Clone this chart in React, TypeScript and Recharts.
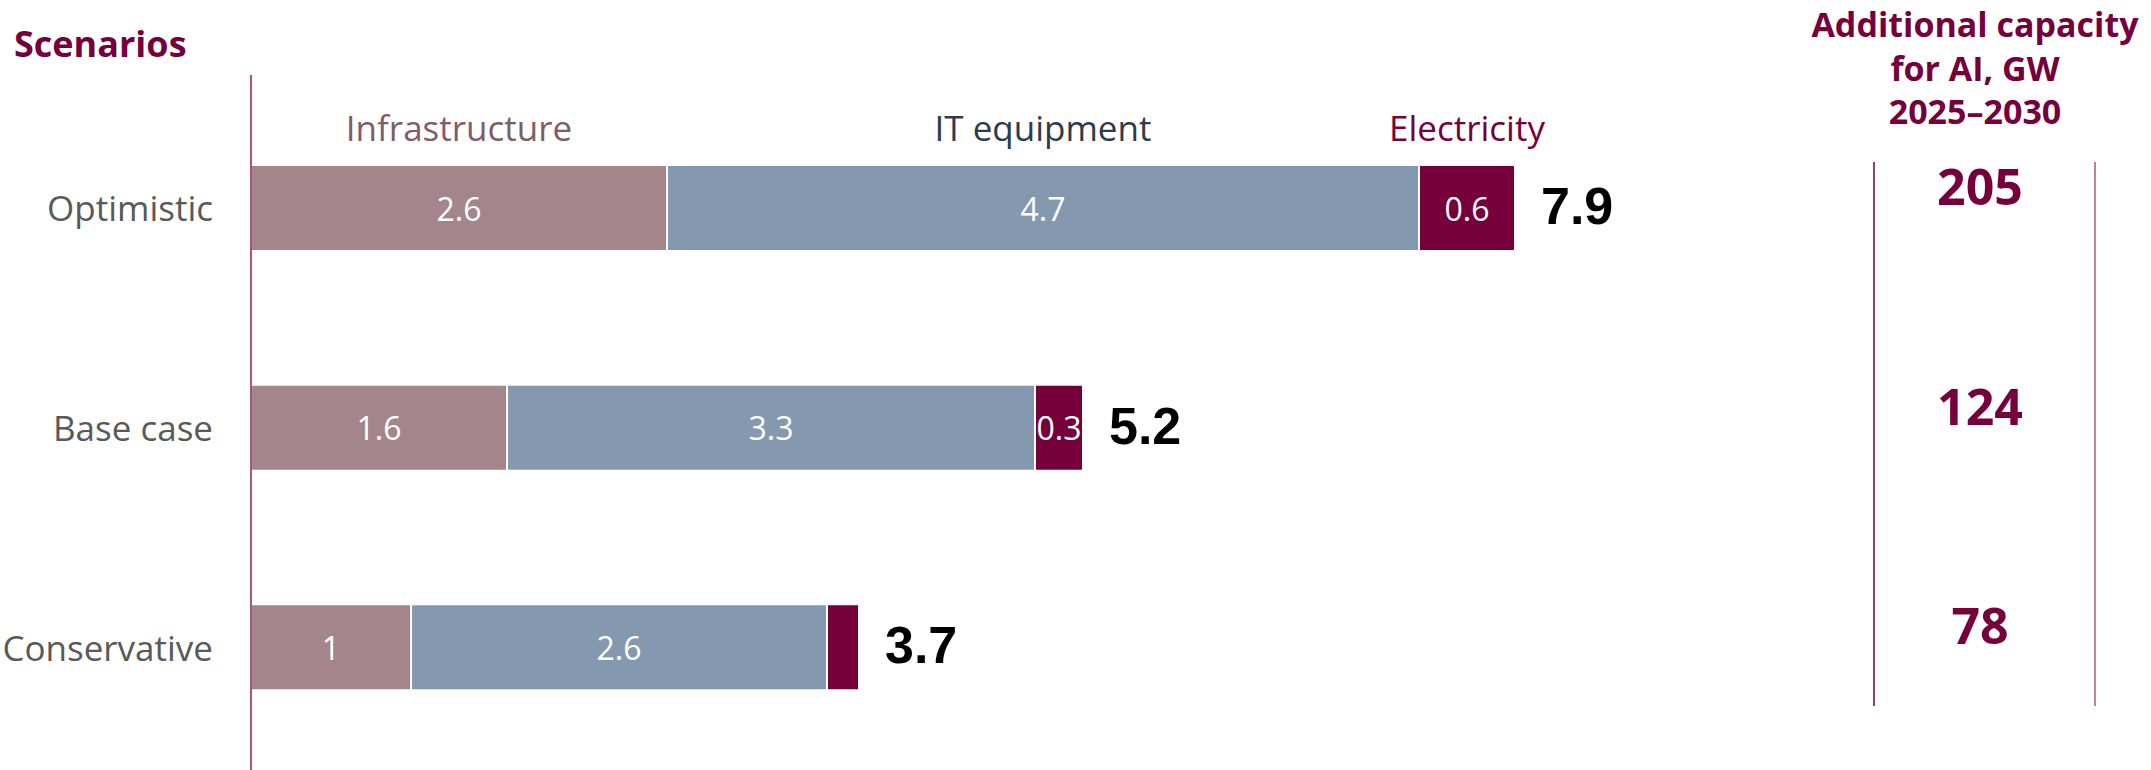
import { Bar, BarChart, LabelList, XAxis, YAxis } from "recharts";

const scenarios = ["Optimistic", "Base case", "Conservative"];
const infrastructure = [2.6, 1.6, 1];
const itEquipment = [4.7, 3.3, 2.6];
const electricity = [0.6, 0.3, 0.2];
const totals = [7.9, 5.2, 3.7];
const capacityGW = [205, 124, 78];

const seriesNames = ["Infrastructure", "IT equipment", "Electricity"];
const barColors = ["#a4858b", "#8498b0", "#76003c"];
const nameColors = ["#7f5c68", "#2e3a4d", "#76003c"];

const MAROON = "#76003c";
const FONT = "'Open Sans', 'Noto Sans', sans-serif";
const TOTAL_FONT = "'Liberation Sans', Arial, sans-serif";

const W = 2151;
const H = 770;

const data = scenarios.map((name, i) => ({
  name,
  infrastructure: infrastructure[i],
  it: itEquipment[i],
  electricity: electricity[i],
  total: totals[i],
  capacity: capacityGW[i],
}));

// value inside a segment, dropped when the segment is too thin
const segmentLabel = (props: any) => {
  const { x, y, width, height, value } = props;
  if (width < 40) return null;
  return (
    <text
      x={x + width / 2}
      y={y + height / 2}
      fill="#fff"
      fontSize={32}
      fontFamily={FONT}
      textAnchor="middle"
      dominantBaseline="central"
    >
      {value}
    </text>
  );
};

// series name over the first row only
const seriesLabel = (i: number) => (props: any) => {
  const { x, y, width, value } = props;
  if (value !== scenarios[0]) return null;
  return (
    <text
      x={x + width / 2}
      y={y - 24}
      fill={nameColors[i]}
      fontSize={35}
      fontFamily={FONT}
      textAnchor="middle"
    >
      {seriesNames[i]}
    </text>
  );
};

const totalLabel = (props: any) => {
  const { x, y, width, height, value } = props;
  return (
    <text
      x={x + width + 26}
      y={y + height / 2 + 16}
      fill="#000"
      fontSize={52}
      fontWeight={700}
      fontFamily={TOTAL_FONT}
    >
      {value}
    </text>
  );
};

const capacityLabel = (props: any) => {
  const { y, height, value } = props;
  return (
    <text
      x={1980}
      y={y + height / 2 - 22}
      fill={MAROON}
      fontSize={50}
      fontWeight={700}
      fontFamily={FONT}
      textAnchor="middle"
      dominantBaseline="central"
    >
      {value}
    </text>
  );
};

const CategoryTick = (props: any) => {
  const { x, y, payload } = props;
  return (
    <text
      x={x - 30}
      y={y}
      fill="#595959"
      fontSize={35}
      fontFamily={FONT}
      textAnchor="end"
      dominantBaseline="central"
    >
      {payload.value}
    </text>
  );
};

export default function App() {
  return (
    <div style={{ position: "fixed", left: 0, top: 0, width: W, height: H, background: "#fff" }}>
      <BarChart
        width={W}
        height={H}
        data={data}
        layout="vertical"
        margin={{ top: 75, right: 300, bottom: 0, left: 0 }}
      >
        <XAxis type="number" domain={[0, 10]} hide />
        <YAxis
          type="category"
          dataKey="name"
          width={251}
          padding={{ top: 23, bottom: 13 }}
          axisLine={{ stroke: "#8c1d52", strokeWidth: 1.5 }}
          tickLine={false}
          tick={<CategoryTick />}
        />
        <Bar dataKey="infrastructure" stackId="s" fill={barColors[0]} stroke="#fff" strokeWidth={2} barSize={86} isAnimationActive={false}>
          <LabelList dataKey="infrastructure" content={segmentLabel} />
          <LabelList dataKey="name" content={seriesLabel(0)} />
        </Bar>
        <Bar dataKey="it" stackId="s" fill={barColors[1]} stroke="#fff" strokeWidth={2} barSize={86} isAnimationActive={false}>
          <LabelList dataKey="it" content={segmentLabel} />
          <LabelList dataKey="name" content={seriesLabel(1)} />
        </Bar>
        <Bar dataKey="electricity" stackId="s" fill={barColors[2]} stroke="#fff" strokeWidth={2} barSize={86} isAnimationActive={false}>
          <LabelList dataKey="electricity" content={segmentLabel} />
          <LabelList dataKey="name" content={seriesLabel(2)} />
          <LabelList dataKey="total" content={totalLabel} />
          <LabelList dataKey="capacity" content={capacityLabel} />
        </Bar>
      </BarChart>
      <svg
        width={W}
        height={H}
        style={{ position: "absolute", left: 0, top: 0, pointerEvents: "none" }}
      >
        <text x={14} y={57} fill={MAROON} fontSize={36} fontWeight={700} fontFamily={FONT}>
          Scenarios
        </text>
        <g fill={MAROON} fontSize={34} fontWeight={700} fontFamily={FONT} textAnchor="middle">
          <text x={1975} y={37}>Additional capacity</text>
          <text x={1975} y={81}>for AI, GW</text>
          <text x={1975} y={124}>2025–2030</text>
        </g>
        <line x1={1874} y1={162} x2={1874} y2={706} stroke={MAROON} strokeWidth={1.5} />
        <line x1={2095} y1={162} x2={2095} y2={706} stroke="#a8577f" strokeWidth={1.5} />
      </svg>
    </div>
  );
}
